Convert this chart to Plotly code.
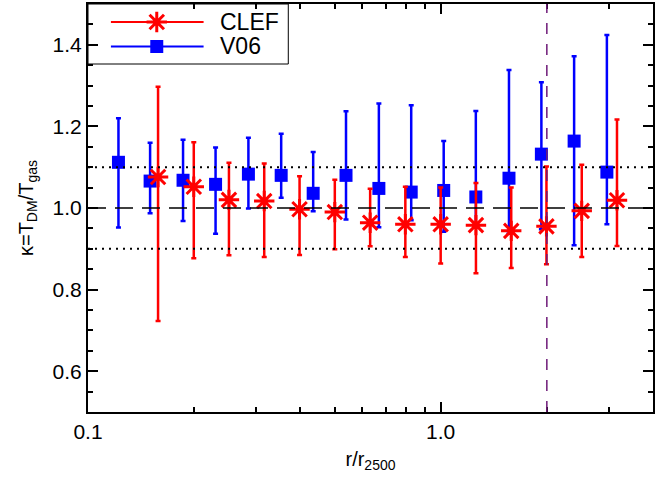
import numpy as np
import plotly.graph_objects as go

# V06 sample: radius in units of r2500, kappa, and upper/lower error-bar ends
v06_r = [0.122, 0.150, 0.186, 0.230, 0.285, 0.353, 0.435, 0.539,
         0.668, 0.825, 1.02, 1.258, 1.562, 1.93, 2.39, 2.96]
v06_k = [1.112, 1.066, 1.068, 1.058, 1.083, 1.080, 1.036, 1.080,
         1.048, 1.039, 1.043, 1.027, 1.073, 1.132, 1.164, 1.088]
v06_hi = [1.220, 1.160, 1.167, 1.148, 1.172, 1.182, 1.137, 1.237,
          1.256, 1.252, 1.164, 1.238, 1.338, 1.308, 1.372, 1.424]
v06_lo = [0.952, 0.987, 0.968, 0.937, 0.999, 1.025, 0.992, 0.972,
          0.953, 0.970, 0.942, 0.956, 0.937, 0.948, 0.909, 0.960]

# CLEF sample
clef_r = [0.158, 0.1995, 0.251, 0.316, 0.398, 0.501, 0.631, 0.794,
          1.0, 1.259, 1.585, 1.995, 2.512, 3.162]
clef_k = [1.076, 1.052, 1.020, 1.017, 0.997, 0.990, 0.964, 0.960,
          0.960, 0.958, 0.944, 0.955, 0.993, 1.019]
clef_hi = [1.297, 1.161, 1.111, 1.109, 1.078, 1.069, 1.047, 1.052,
           1.050, 1.061, 1.050, 1.102, 1.106, 1.217]
clef_lo = [0.723, 0.877, 0.884, 0.880, 0.885, 0.899, 0.906, 0.880,
           0.864, 0.840, 0.853, 0.862, 0.880, 0.907]

x_major = [0.1, 1.0]
x_major_text = ["0.1", "1.0"]
x_minor = [0.2, 0.3, 0.4, 0.5, 0.6, 0.7, 0.8, 0.9, 2, 3, 4]
y_major = [0.6, 0.8, 1.0, 1.2, 1.4]
y_major_text = ["0.6", "0.8", "1.0", "1.2", "1.4"]
r_marker = 2.0  # vertical marker radius

RED = "#FF0000"
BLUE = "#0000FF"
FONT = "Liberation Sans"

W, H = 655, 478
L, R, T, B = 88, 0, 4, 66
PW, PH = W - L - R, H - T - B


def px_to_paper(px, py):
    return (px - L) / PW, (H - B - py) / PH


fig = go.Figure()

# reference lines
fig.add_hline(y=1.0, line=dict(color="black", width=1.5, dash="18px,9px"))
fig.add_hline(y=1.1, line=dict(color="black", width=2, dash="2px,5px"))
fig.add_hline(y=0.9, line=dict(color="black", width=2, dash="2px,5px"))
fig.add_vline(x=r_marker, line=dict(color="#6E1A78", width=1.5, dash="11px,10px"))


def err(y, hi, lo):
    y, hi, lo = map(np.asarray, (y, hi, lo))
    return (hi - y).tolist(), (y - lo).tolist()


clef_marker = dict(symbol="asterisk-open", size=17, color=RED, line=dict(color=RED, width=3))
v06_marker = dict(symbol="square", size=13, color=BLUE)

up, dn = err(v06_k, v06_hi, v06_lo)
fig.add_trace(go.Scatter(
    x=v06_r, y=v06_k, mode="markers", name="V06", showlegend=False,
    marker=v06_marker,
    error_y=dict(type="data", symmetric=False, array=up, arrayminus=dn,
                 color=BLUE, thickness=2.5, width=2.5),
))

up, dn = err(clef_k, clef_hi, clef_lo)
fig.add_trace(go.Scatter(
    x=clef_r, y=clef_k, mode="markers", name="CLEF", showlegend=False,
    marker=clef_marker,
    error_y=dict(type="data", symmetric=False, array=up, arrayminus=dn,
                 color=RED, thickness=2.5, width=2.5),
))

# legend drawn in paper space: box, sample lines, markers, labels
x0, y0 = px_to_paper(88, 64)
x1, y1 = px_to_paper(289, 4)
fig.add_shape(type="rect", xref="paper", yref="paper", x0=x0, y0=y0, x1=x1, y1=y1,
              line=dict(color="black", width=1), fillcolor="white", layer="below")

legend_items = [("CLEF", RED, 22, clef_marker), ("V06", BLUE, 46.5, v06_marker)]
lx0, _ = px_to_paper(111, 0)
lx1, _ = px_to_paper(204, 0)
mx, _ = px_to_paper(157, 0)
tx, _ = px_to_paper(218, 0)
for label, color, py, mk in legend_items:
    _, ly = px_to_paper(0, py)
    fig.add_shape(type="line", xref="paper", yref="paper", x0=lx0, x1=lx1, y0=ly, y1=ly,
                  line=dict(color=color, width=2), layer="below")
    fig.add_annotation(xref="paper", yref="paper", x=tx, y=ly, text=label,
                       showarrow=False, xanchor="left", yanchor="middle",
                       font=dict(family=FONT, size=23, color="black"))
    fig.add_trace(go.Scatter(x=[mx], y=[ly], xaxis="x2", yaxis="y2", mode="markers",
                             marker=mk, showlegend=False, hoverinfo="skip"))

axis_common = dict(
    showline=True, linecolor="black", linewidth=2, mirror="ticks",
    ticks="inside", ticklen=10, tickwidth=1.5, tickcolor="black",
    showgrid=False, zeroline=False,
    tickfont=dict(family=FONT, size=21, color="black"),
)

fig.update_layout(
    width=W, height=H,
    margin=dict(l=L, r=R, t=T, b=B),
    paper_bgcolor="white", plot_bgcolor="white",
    showlegend=False,
    xaxis=dict(
        type="log", range=[-1, np.log10(4.0)],
        tickmode="array", tickvals=x_major, ticktext=x_major_text,
        minor=dict(tickmode="array", tickvals=x_minor, ticks="inside",
                   ticklen=5, tickwidth=1.5, tickcolor="black"),
        title=dict(text="r/r<sub>2500</sub>", font=dict(family=FONT, size=20, color="black"),
                   standoff=10),
        **axis_common,
    ),
    yaxis=dict(
        range=[0.5, 1.5],
        tickmode="array", tickvals=y_major, ticktext=y_major_text,
        minor=dict(dtick=0.05, tick0=0.5, ticks="inside",
                   ticklen=5, tickwidth=1.5, tickcolor="black"),
        title=dict(text="κ=T<sub>DM</sub>/T<sub>gas</sub>",
                   font=dict(family=FONT, size=20, color="black"), standoff=14),
        **axis_common,
    ),
    xaxis2=dict(overlaying="x", range=[0, 1], visible=False, fixedrange=True),
    yaxis2=dict(overlaying="y", range=[0, 1], visible=False, fixedrange=True),
)

fig.write_html("out.html")
